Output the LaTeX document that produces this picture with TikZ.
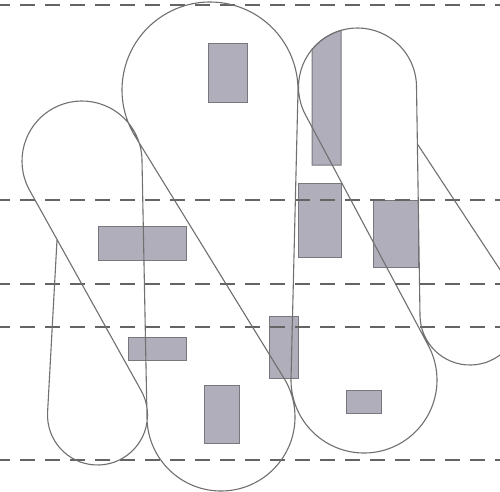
\documentclass[tikz,border=0pt]{standalone}
\usetikzlibrary{calc}
\definecolor{curvegray}{RGB}{112,112,112}
\definecolor{dashgray}{RGB}{100,100,100}
\definecolor{blockfill}{RGB}{176,174,186}
\definecolor{blockedge}{RGB}{120,120,124}
\begin{document}
\begin{tikzpicture}[x=1pt,y=-1pt,
  curve/.style={draw=curvegray,line width=1.1pt},
  guide/.style={draw=dashgray,line width=1.2pt,dash pattern=on 15pt off 10pt,dash phase=5pt},
  block/.style={fill=blockfill,draw=blockedge,line width=1pt}]
\clip (0,0) rectangle (500,491);
\fill[white] (0,0) rectangle (500,491);
% circle centres
\coordinate (cAt) at (82,161);
\coordinate (cAb) at (97.5,415);
\coordinate (cBt) at (210,90);
\coordinate (cBb) at (221,417);
\coordinate (cCb) at (364,380);
\coordinate (cDt) at (357.5,87);
\coordinate (cDb) at (470,315);
% blocks
\draw[block] (208,43) rectangle (247,102);
\draw[block] (312,165) -- ($(cDt)+(219.6:59)$) arc[start angle=219.6,end angle=253.8,radius=59] -- (341,165) -- cycle;
\draw[block] (98,226) rectangle (186,260);
\draw[block] (128,337) rectangle (186.5,360);
\draw[block] (269,316) rectangle (298.5,378);
\draw[block] (204,385) rectangle (239,443);
\draw[block] (298,183) rectangle (341.5,257);
\draw[block] (373,200) rectangle (418,267);
\draw[block] (346,390) rectangle (381.5,413);
% dashed guides
\foreach \yy/\nm in {5/g1,200/g2,284/g3,327/g4,460/g5}{
  \coordinate (\nm a) at (0,\yy);
  \coordinate (\nm b) at (500,\yy);
  \draw[guide] (\nm a) -- (\nm b);
}
% the coil curve
\coordinate (start) at (57,240);
\coordinate (finish) at (417.4,144);
\draw[curve] (start) -- ($(cAb)+(183:50)$) arc[start angle=183,end angle=-29.1,radius=50]
 -- ($(cAt)+(150.9:60)$) arc[start angle=150.9,end angle=358.9,radius=60]
 -- ($(cBb)+(178.9:74)$) arc[start angle=178.9,end angle=-31.6,radius=74]
 -- ($(cBt)+(148.4:88)$) arc[start angle=148.4,end angle=361.4,radius=88]
 -- ($(cCb)+(181.4:73)$) arc[start angle=181.4,end angle=-28.1,radius=73]
 -- ($(cDt)+(151.9:59)$) arc[start angle=151.9,end angle=359.1,radius=59]
 -- ($(cDb)+(179.1:50)$) arc[start angle=179.1,end angle=-33.7,radius=50]
 -- (finish);
\end{tikzpicture}
\end{document}
